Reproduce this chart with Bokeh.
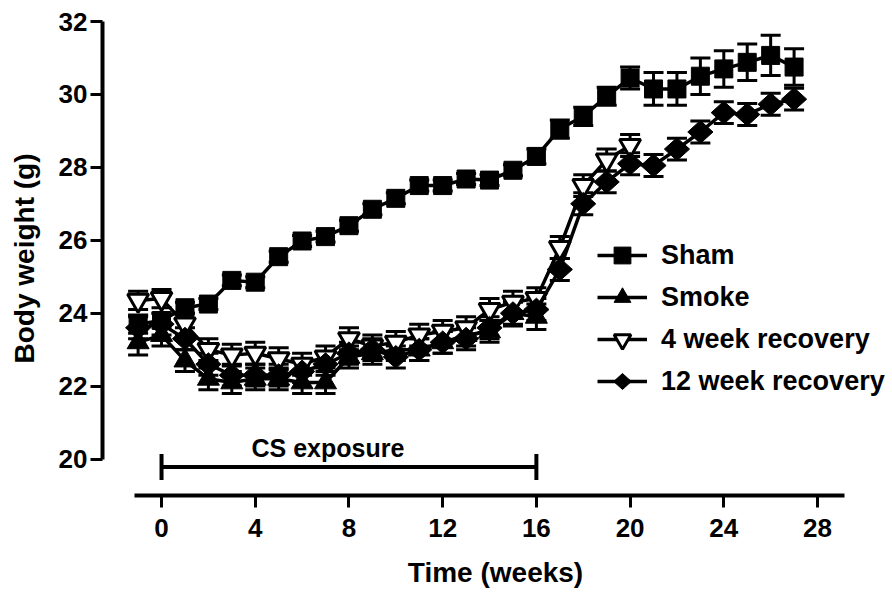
from bokeh.plotting import figure
from bokeh.models import (Range1d, Legend, LegendItem, Whisker, ColumnDataSource,
                          Label, FixedTicker, TeeHead, CustomJS)
from bokeh.embed import file_html
from bokeh.resources import INLINE

# ---------------- data ----------------
weeks = list(range(-1, 28))
sham = [23.7, 23.8, 24.15, 24.25, 24.9, 24.85, 25.55, 25.98, 26.1, 26.4, 26.85, 27.15,
        27.5, 27.5, 27.68, 27.65, 27.92, 28.3, 29.05, 29.4, 29.95, 30.45, 30.15, 30.15,
        30.5, 30.7, 30.88, 31.07, 30.75]
sham_se = [0.25, 0.2, 0.15, 0.15, 0.15, 0.15, 0.15, 0.15, 0.15, 0.15, 0.15, 0.15,
           0.15, 0.15, 0.15, 0.15, 0.15, 0.2, 0.25, 0.25, 0.25, 0.3, 0.45, 0.45,
           0.5, 0.5, 0.5, 0.55, 0.5]

smoke_weeks = list(range(-1, 17))
smoke = [23.2, 23.4, 22.7, 22.2, 22.1, 22.2, 22.2, 22.1, 22.1, 22.8, 22.9, 23.0,
         23.0, 23.2, 23.4, 23.5, 24.0, 23.9]
smoke_se = [0.35, 0.3, 0.3, 0.3, 0.3, 0.3, 0.3, 0.3, 0.3, 0.3, 0.3, 0.3,
            0.3, 0.3, 0.3, 0.3, 0.35, 0.35]

rec4_weeks = list(range(-1, 21))
rec4 = [24.35, 24.4, 23.7, 23.0, 22.85, 22.9, 22.75, 22.6, 22.8, 23.3, 23.1, 23.2,
        23.4, 23.5, 23.6, 24.1, 24.3, 24.4, 25.8, 27.5, 28.2, 28.6]
rec4_se = [0.25, 0.25, 0.3, 0.3, 0.3, 0.3, 0.3, 0.3, 0.3, 0.3, 0.3, 0.3,
           0.3, 0.3, 0.3, 0.3, 0.3, 0.3, 0.3, 0.3, 0.3, 0.3]

rec12_weeks = list(range(-1, 28))
rec12 = [23.6, 23.7, 23.3, 22.6, 22.3, 22.3, 22.3, 22.4, 22.6, 22.9, 23.0, 22.8,
         23.0, 23.2, 23.3, 23.6, 24.0, 24.1, 25.2, 27.0, 27.6, 28.1, 28.05, 28.5,
         28.97, 29.5, 29.45, 29.73, 29.87]
rec12_se = [0.3, 0.3, 0.3, 0.3, 0.3, 0.3, 0.3, 0.3, 0.3, 0.3, 0.3, 0.3,
            0.3, 0.3, 0.3, 0.3, 0.3, 0.3, 0.3, 0.3, 0.3, 0.3, 0.3, 0.3,
            0.3, 0.3, 0.3, 0.3, 0.3]

x_ticks = [0, 4, 8, 12, 16, 20, 24, 28]
y_ticks = [20, 22, 24, 26, 28, 30, 32]
exposure_start, exposure_end = 0, 16
exposure_level = 19.78
exposure_text = "CS exposure"

FONT = "Liberation Sans"

# ---------------- figure ----------------
p = figure(width=888, height=590, output_backend="svg", toolbar_location=None,
           x_range=Range1d(-2.52, 31.03), y_range=Range1d(19.0, 32.0),
           min_border_left=102, min_border_right=0, min_border_top=21,
           min_border_bottom=93)
p.outline_line_color = None
p.grid.visible = False
p.background_fill_color = "white"

p.xaxis.ticker = FixedTicker(ticks=x_ticks)
p.yaxis.ticker = FixedTicker(ticks=y_ticks)
p.xaxis.bounds = (-1.15, 29.15)
p.yaxis.bounds = (20, 32)
p.axis.axis_line_width = 4
p.axis.axis_line_color = "black"
p.axis.major_tick_line_width = 3
p.axis.major_tick_line_color = "black"
p.axis.major_tick_out = 12
p.axis.major_tick_in = 0
p.axis.minor_tick_line_color = None
p.axis.major_label_text_font = FONT
p.axis.major_label_text_font_style = "bold"
p.axis.major_label_text_font_size = "26px"
p.axis.major_label_text_color = "black"
p.xaxis.major_label_standoff = 11
p.yaxis.major_label_standoff = 3
p.axis.axis_label_text_font = FONT
p.axis.axis_label_text_font_style = "bold"
p.axis.axis_label_text_font_size = "28px"
p.axis.axis_label_text_color = "black"
p.xaxis.axis_label = "Time (weeks)"
p.yaxis.axis_label = "Body weight (g)"
p.xaxis.axis_label_standoff = 17
p.yaxis.axis_label_standoff = 16


def add_err(xs, ys, se):
    src = ColumnDataSource(dict(x=xs, upper=[a + b for a, b in zip(ys, se)],
                                lower=[a - b for a, b in zip(ys, se)]))
    w = Whisker(source=src, base="x", upper="upper", lower="lower",
                line_width=3, line_color="black",
                upper_head=TeeHead(size=20, line_width=3, line_color="black"),
                lower_head=TeeHead(size=20, line_width=3, line_color="black"))
    p.add_layout(w)


add_err(weeks, sham, sham_se)
add_err(smoke_weeks, smoke, smoke_se)
add_err(rec4_weeks, rec4, rec4_se)
add_err(rec12_weeks, rec12, rec12_se)

diamond_def = CustomJS(code="""
export default (args, obj, {ctx, i, r, visuals}) => {
  ctx.beginPath()
  ctx.moveTo(0, -0.95*r)
  ctx.lineTo(1.05*r, 0)
  ctx.lineTo(0, 0.95*r)
  ctx.lineTo(-1.05*r, 0)
  ctx.closePath()
  visuals.fill.apply(ctx, i)
  visuals.line.apply(ctx, i)
}
""")

l_sham = p.line(weeks, sham, line_width=3.5, line_color="black")
m_sham = p.scatter(weeks, sham, marker="square", size=18, fill_color="black",
                   line_color="black")
l_smoke = p.line(smoke_weeks, smoke, line_width=3.5, line_color="black")
m_smoke = p.scatter(smoke_weeks, smoke, marker="triangle", size=22, fill_color="black",
                    line_color="black")
l_rec4 = p.line(rec4_weeks, rec4, line_width=3.5, line_color="black")
m_rec4 = p.scatter(rec4_weeks, rec4, marker="inverted_triangle", size=21,
                   fill_color="white", line_color="black", line_width=3)
l_rec12 = p.line(rec12_weeks, rec12, line_width=3.5, line_color="black")
m_rec12 = p.scatter(rec12_weeks, rec12, marker="@diamond", defs={"@diamond": diamond_def},
                    size=24, fill_color="black", line_color="black")

# CS exposure bar
cs_src = ColumnDataSource(dict(base=[exposure_level], lower=[exposure_start],
                               upper=[exposure_end]))
p.add_layout(Whisker(source=cs_src, base="base", lower="lower", upper="upper",
                     dimension="width", line_width=4, line_color="black",
                     upper_head=TeeHead(size=26, line_width=4, line_color="black"),
                     lower_head=TeeHead(size=26, line_width=4, line_color="black")))
p.add_layout(Label(x=(exposure_start + exposure_end) / 2 - 0.9, y=exposure_level,
                   y_offset=19, text=exposure_text, text_align="center",
                   text_baseline="alphabetic", text_font=FONT,
                   text_font_style="bold", text_font_size="25px",
                   text_color="black"))

legend = Legend(items=[
    LegendItem(label="Sham", renderers=[l_sham, m_sham]),
    LegendItem(label="Smoke", renderers=[l_smoke, m_smoke]),
    LegendItem(label="4 week recovery", renderers=[l_rec4, m_rec4]),
    LegendItem(label="12 week recovery", renderers=[l_rec12, m_rec12]),
], location=(495, 93))
legend.border_line_color = None
legend.background_fill_alpha = 0
legend.padding = 0
legend.margin = 0
legend.spacing = 0
legend.glyph_width = 50
legend.glyph_height = 42
legend.label_height = 42
legend.label_standoff = 14
legend.label_text_font = FONT
legend.label_text_font_style = "bold"
legend.label_text_font_size = "27px"
legend.label_text_color = "black"
legend.label_text_baseline = "middle"
p.add_layout(legend)

open("out.html", "w").write(file_html(p, INLINE))
